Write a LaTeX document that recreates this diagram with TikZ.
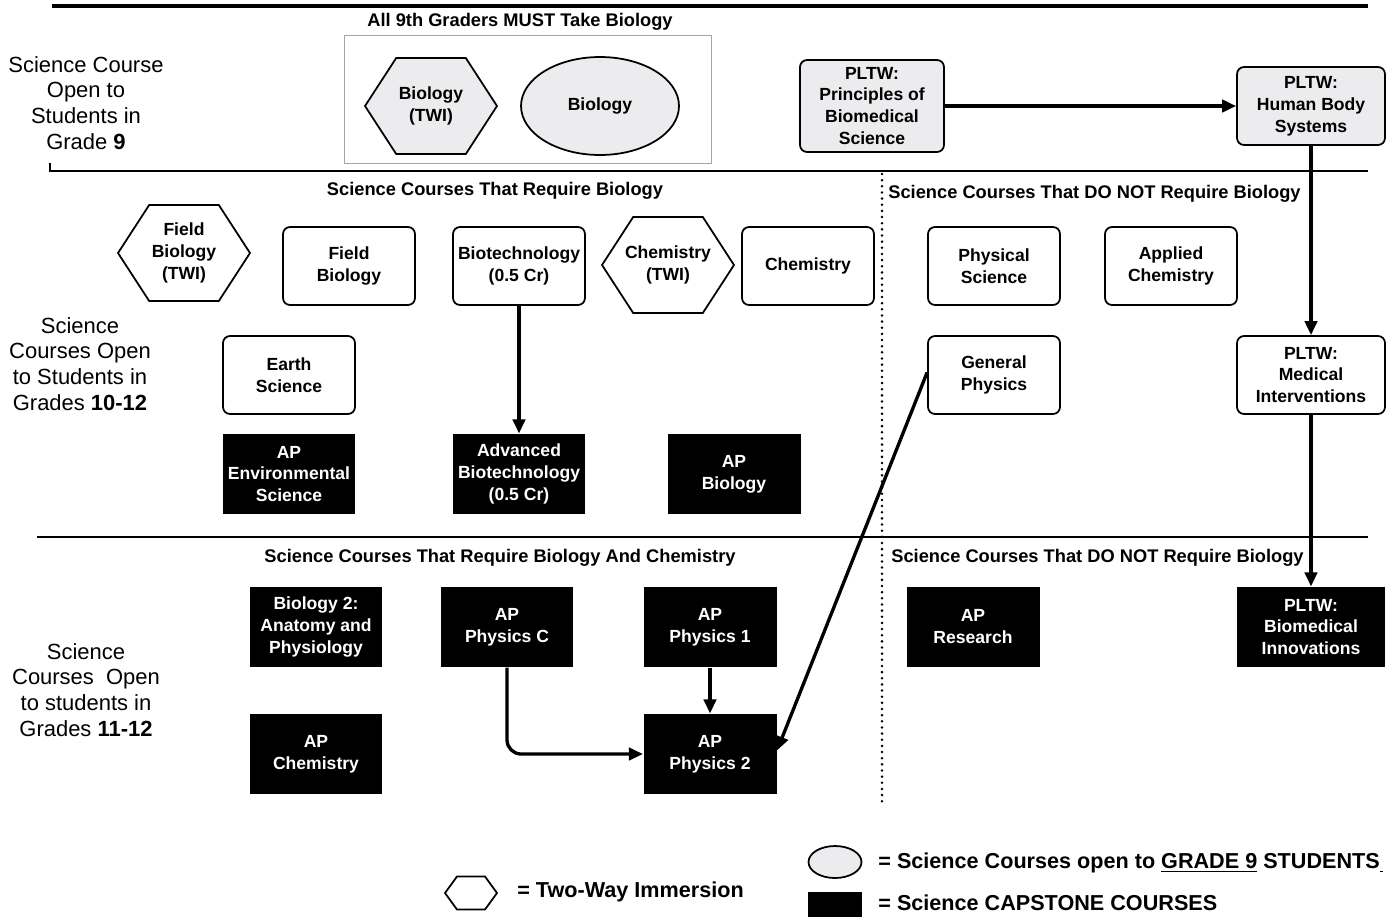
\documentclass[tikz,border=0pt]{standalone}
\usepackage{fontspec}
\setmainfont{Liberation Sans}
\usetikzlibrary{arrows.meta,shapes.geometric,shapes.symbols}
\definecolor{ninthfill}{RGB}{236,236,238}

\begin{document}
\begin{tikzpicture}[x=0.02cm, y=-0.02cm, semithick,
  >={Triangle[length=8pt,width=7pt]},
  txt/.style={font=\bfseries\fontsize{10}{12.5}\selectfont},
  course/.style={draw, txt, rounded corners=4pt, line width=1pt, align=center,
    minimum width=2.64cm, minimum height=1.56cm, inner sep=1pt},
  ninth/.style={course, fill=ninthfill},
  capstone/.style={rectangle, fill=black, text=white, txt, align=center,
    minimum width=2.66cm, minimum height=1.6cm, inner sep=1pt},
  twi/.style={signal, signal to=east and west, signal pointer angle=114, draw,
    txt, line width=1pt, align=center, minimum width=2.64cm,
    minimum height=1.92cm, inner sep=1pt},
  heading/.style={font=\bfseries\fontsize{10.4}{12}\selectfont},
  grade/.style={align=center, font=\fontsize{12.5}{14.7}\selectfont},
  legend/.style={anchor=west, font=\bfseries\fontsize{12.3}{15}\selectfont},
  link/.style={->, line width=1.9pt},
  rule/.style={line width=0.95pt},
  dotline/.style={line width=1.6pt, dash pattern=on 0pt off 3.5pt, line cap=round}]
  \useasboundingbox (0,0) rectangle (1398,917);

  % section rules
  \draw [line width=1.8pt] (52,6) -- (1368,6);
  \draw [rule] (50,163) -- (50,171) -- (1368,171);
  \draw [rule] (37,537) -- (1368,537);
  \draw [dotline] (882,174) -- (882,805);

  % grade labels
  \node [grade] (g9) at (86,103) {Science Course\\Open to\\Students in\\Grade \textbf{9}};
  \node [grade] (g10) at (80,364) {Science\\Courses Open\\to Students in\\Grades \textbf{10-12}};
  \node [grade] (g11) at (86,690) {Science\\Courses\ \ Open\\to students in\\Grades \textbf{11-12}};

  % headings
  \node [heading] (h9) at (520,22) {All 9th Graders MUST Take Biology};
  \node [heading] (hreq) at (495,191) {Science Courses That Require Biology};
  \node [heading, anchor=west] (hnot) at (882,194) {Science Courses That DO NOT Require Biology};
  \node [heading] (hchem) at (500,558) {Science Courses That Require Biology And Chemistry};
  \node [heading, anchor=west] (hnot2) at (885,558) {Science Courses That DO NOT Require Biology};

  % grade 9
  \node [draw=gray!70, thin, minimum width=7.34cm, minimum height=2.56cm] (must) at (527.5,99) {};
  \node [twi, fill=ninthfill] (biotwi) at (431,106) {Biology\\(TWI)};
  \node [draw, ellipse, fill=ninthfill, line width=1pt, txt,
         minimum width=3.16cm, minimum height=1.96cm] (bio) at (600,106) {Biology};
  \node [ninth, minimum width=2.88cm, minimum height=1.84cm] (pbs) at (872,106) {PLTW:\\Principles of\\Biomedical\\Science};
  \node [ninth, minimum width=2.96cm] (hbs) at (1311,106) {PLTW:\\Human Body\\Systems};

  % grades 10-12
  \node [twi] (fbtwi) at (184,253) {Field\\Biology\\(TWI)};
  \node [course] (fb) at (349,266) {Field\\Biology};
  \node [course] (biotech) at (519,266) {Biotechnology\\(0.5 Cr)};
  \node [twi, inner xsep=-5pt] (chemtwi) at (668,265) {Chemistry\\(TWI)};
  \node [course] (chem) at (808,266) {Chemistry};
  \node [course] (physsci) at (994,266) {Physical\\Science};
  \node [course] (appchem) at (1171,266) {Applied\\Chemistry};
  \node [course] (earth) at (289,375) {Earth\\Science};
  \node [course] (genphys) at (994,375) {General\\Physics};
  \node [course, minimum width=2.96cm] (medint) at (1311,375) {PLTW:\\Medical\\Interventions};
  \node [capstone] (apenv) at (289,474) {AP\\Environmental\\Science};
  \node [capstone] (advbiotech) at (519,474) {Advanced\\Biotechnology\\(0.5 Cr)};
  \node [capstone] (apbio) at (734,474) {AP\\Biology};

  % grades 11-12
  \node [capstone] (bio2) at (316,627) {Biology 2:\\Anatomy and\\Physiology};
  \node [capstone] (physc) at (507,627) {AP\\Physics C};
  \node [capstone] (phys1) at (710,627) {AP\\Physics 1};
  \node [capstone] (research) at (973,627) {AP\\Research};
  \node [capstone, minimum width=2.96cm] (biomedinn) at (1311,627) {PLTW:\\Biomedical\\Innovations};
  \node [capstone] (apchem) at (316,754) {AP\\Chemistry};
  \node [capstone] (phys2) at (710,754) {AP\\Physics 2};

  \path [link] (pbs) edge (hbs)
               (hbs) edge (medint)
               (medint) edge (biomedinn)
               (biotech) edge (advbiotech)
               (phys1) edge (phys2)
               ([yshift=1.5pt]genphys.west) edge ([yshift=2pt]phys2.east);
  \draw [link, rounded corners=8pt] (physc) |- (phys2);

  % key
  \node [twi, minimum width=1.04cm, minimum height=0.66cm, signal pointer angle=108] (keytwi) at (471,893) {};
  \node [legend] (keytwitxt) at (511,892) {= Two-Way Immersion};
  \node [draw, ellipse, fill=ninthfill, line width=1pt, minimum width=1.06cm,
         minimum height=0.64cm] (keyninth) at (835,862) {};
  \node [legend] (keyninthtxt) at (872,863) {= Science Courses open to \underline{GRADE 9} STUDENTS\underline{\hspace{2pt}}};
  \node [fill=black, minimum width=1.08cm, minimum height=0.5cm, inner sep=0pt] (keycap) at (835,904.5) {};
  \node [legend] (keycaptxt) at (872,903) {= Science CAPSTONE COURSES};
\end{tikzpicture}
\end{document}
